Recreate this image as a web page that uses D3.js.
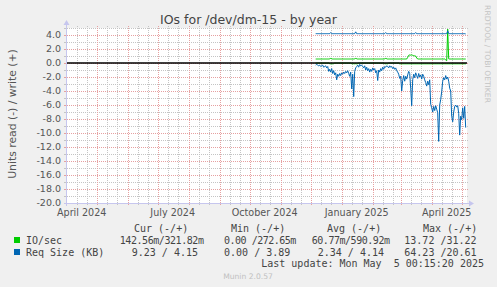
<!DOCTYPE html>
<html>
<head>
<meta charset="utf-8">
<script src="https://cdn.jsdelivr.net/npm/d3@7"></script>
<style>
  body { margin: 0; background: #f0f0f0; }
  svg { display: block; }
  text { white-space: pre; }
</style>
</head>
<body>
<svg id="chart" width="497" height="287"></svg>
<script>
// ---- data ----
const rangeStart = "2024-04-01";
const rangeEnd = "2025-05-06";
const seriesStart = "2024-12-06"; // one sample per day from here

// IO/sec write (+)
const ioWrite = [
  0.57, 0.57, 0.57, 0.57, 0.57, 0.57, 0.57, 0.57, 0.57, 0.57,
  0.57, 0.57, 0.57, 0.57, 0.57, 0.72, 0.57, 0.57, 0.57, 0.57,
  0.57, 0.57, 0.57, 0.57, 0.57, 0.57, 0.57, 0.57, 0.57, 0.57,
  0.57, 0.57, 0.57, 0.57, 0.57, 0.57, 0.57, 0.57, 0.57, 0.57,
  0.72, 0.57, 0.57, 0.57, 0.57, 0.57, 0.57, 0.57, 0.57, 0.57,
  0.57, 0.57, 0.57, 0.57, 0.57, 0.57, 0.57, 0.57, 0.57, 0.57,
  0.57, 0.57, 0.57, 0.57, 0.57, 0.57, 0.57, 0.57, 0.57, 0.57,
  0.72, 0.57, 0.57, 0.57, 0.57, 0.57, 0.57, 0.57, 0.57, 0.57,
  0.57, 0.57, 0.57, 0.57, 0.57, 0.57, 0.57, 0.57, 0.57, 0.57,
  0.57, 0.57, 0.80, 1.10, 1.15, 1.12, 1.15, 1.10, 1.05, 1.02,
  1.00, 0.72, 0.57, 0.57, 0.57, 0.57, 0.57, 0.57, 0.57, 0.57,
  0.57, 0.57, 0.57, 0.57, 0.57, 0.57, 0.57, 0.57, 0.57, 0.57,
  0.57, 0.57, 0.57, 0.57, 0.57, 0.57, 0.57, 0.57, 0.57, 0.57,
  0.45, 0.32, 4.85, 0.60, 0.57, 0.57, 0.57, 0.57, 0.57, 0.57,
  0.57, 0.57, 0.57, 0.57, 0.57, 0.57, 0.57, 0.57, 0.57, 0.57, 0.57
];
// IO/sec read (-)
const ioRead = [
  0.02, 0.02, 0.02, 0.02, 0.02, 0.02, 0.02, 0.02, 0.02, 0.02,
  0.02, 0.02, 0.02, 0.02, 0.10, 0.12, 0.10, 0.12, 0.10, 0.02,
  0.02, 0.02, 0.02, 0.02, 0.02, 0.02, 0.02, 0.02, 0.02, 0.02,
  0.02, 0.02, 0.02, 0.02, 0.02, 0.02, 0.10, 0.12, 0.10, 0.12,
  0.10, 0.12, 0.10, 0.02, 0.02, 0.02, 0.02, 0.02, 0.02, 0.02,
  0.02, 0.02, 0.02, 0.02, 0.02, 0.02, 0.02, 0.02, 0.02, 0.02,
  0.02, 0.02, 0.02, 0.02, 0.02, 0.02, 0.02, 0.02, 0.02, 0.10,
  0.12, 0.10, 0.12, 0.02, 0.02, 0.02, 0.02, 0.02, 0.02, 0.02,
  0.02, 0.02, 0.02, 0.02, 0.12, 0.12, 0.12, 0.12, 0.12, 0.12,
  0.12, 0.12, 0.12, 0.12, 0.12, 0.12, 0.12, 0.12, 0.12, 0.12,
  0.12, 0.12, 0.12, 0.12, 0.12, 0.12, 0.12, 0.12, 0.12, 0.12,
  0.12, 0.12, 0.12, 0.12, 0.12, 0.12, 0.12, 0.12, 0.12, 0.12,
  0.12, 0.12, 0.12, 0.12, 0.12, 0.12, 0.12, 0.12, 0.12, 0.12,
  0.12, 0.12, 0.12, 0.12, 0.12, 0.12, 0.12, 0.12, 0.12, 0.12,
  0.12, 0.12, 0.12, 0.12, 0.12, 0.12, 0.12, 0.12, 0.12, 0.12, 0.14
];
// Req Size (KB) write (+)
const reqWrite = [
  4.19, 4.19, 4.19, 4.19, 4.19, 4.19, 4.19, 4.19, 4.19, 4.19,
  4.19, 4.19, 4.19, 4.19, 4.19, 4.35, 4.19, 4.19, 4.19, 4.19,
  4.19, 4.19, 4.19, 4.19, 4.19, 4.19, 4.19, 4.19, 4.19, 4.19,
  4.19, 4.19, 4.19, 4.19, 4.19, 4.19, 4.19, 4.19, 4.19, 4.19,
  4.45, 4.19, 4.19, 4.19, 4.19, 4.19, 4.19, 4.19, 4.19, 4.19,
  4.19, 4.19, 4.19, 4.19, 4.19, 4.19, 4.19, 4.19, 4.19, 4.19,
  4.19, 4.19, 4.19, 4.19, 4.19, 4.19, 4.19, 4.19, 4.19, 4.19,
  4.35, 4.19, 4.19, 4.19, 4.19, 4.19, 4.19, 4.19, 4.19, 4.19,
  4.19, 4.19, 4.19, 4.19, 4.19, 4.19, 4.19, 4.19, 4.19, 4.19,
  4.19, 4.19, 4.19, 4.19, 4.19, 4.19, 4.19, 4.19, 4.19, 4.19,
  4.35, 4.19, 4.19, 4.19, 4.19, 4.19, 4.19, 4.19, 4.19, 4.19,
  4.19, 4.19, 4.19, 4.19, 4.19, 4.19, 4.19, 4.19, 4.19, 4.19,
  4.19, 4.19, 4.19, 4.19, 4.19, 4.19, 4.19, 4.19, 4.19, 4.19,
  4.19, 4.19, 4.60, 4.19, 4.19, 4.19, 4.19, 4.19, 4.19, 4.19,
  4.19, 4.19, 4.19, 4.19, 4.19, 4.19, 4.19, 4.19, 4.19, 4.19, 4.15
];
// Req Size (KB) read (-)
const reqRead = [
  0.3, 0.2, 0.3, 0.4, 0.3, 0.5, 0.4, 0.3, 0.6, 0.5,
  0.4, 0.7, 0.5, 1.2, 0.9, 1.3, 0.8, 1.5, 1.1, 1.7,
  1.4, 2.4, 1.6, 1.9, 1.5, 1.8, 1.4, 1.6, 1.3, 1.5,
  1.2, 1.4, 1.1, 1.5, 1.9, 1.3, 3.7, 1.6, 4.8, 1.2,
  0.7, 0.5, 0.3, 0.6, 0.2, 0.4, 0.3, 0.5, 0.7, 0.4,
  1.0, 0.6, 1.1, 0.8, 1.3, 0.9, 1.2, 0.7, 1.0, 0.8,
  1.4, 1.1, 2.5, 1.0, 1.3, 0.8, 1.1, 0.6, 0.9, 0.5,
  0.6, 0.4, 0.5, 0.7, 0.4, 0.6, 0.5, 0.8, 0.6, 0.9,
  0.7, 1.1, 1.3, 1.6, 2.2, 1.9, 4.0, 2.5, 1.8, 2.6,
  1.9, 2.3, 1.7, 1.2, 1.5, 3.6, 6.1, 2.4, 1.6, 2.1,
  1.4, 1.8, 2.2, 1.5, 2.0, 1.7, 2.3, 1.6, 1.9, 2.4,
  2.8, 3.3, 2.6, 3.1, 2.4, 5.9, 6.4, 7.0, 6.2, 6.8,
  6.1, 6.6, 7.1, 11.2, 6.0, 5.2, 4.1, 2.6, 2.1, 2.4,
  1.8, 2.3, 2.0, 2.6, 3.6, 4.0, 7.6, 8.4, 7.0, 6.2,
  6.0, 6.3, 6.1, 7.2, 10.3, 7.6, 8.1, 6.4, 7.9, 6.2, 9.23
];

const yDomain = [-20, 5];
const yTickValues = [4, 2, 0, -2, -4, -6, -8, -10, -12, -14, -16, -18, -20];
const xLabelText = ["April 2024", "July 2024", "October 2024", "January 2025", "April 2025"];
const xLabelMonths = ["2024-04-01", "2024-07-01", "2024-10-01", "2025-01-01", "2025-04-01"];

const legendNames = ["IO/sec", "Req Size (KB)"];
const legendColors = ["#00cc00", "#0066b3"];
const legendHeaders = ["Cur (-/+)", "Min (-/+)", "Avg (-/+)", "Max (-/+)"];
const legendRead = [["142.56m", "0.00", "60.77m", "13.72"], ["9.23", "0.00", "2.34", "64.23"]];
const legendWrite = [["321.82m", "272.65m", "590.92m", "31.22"], ["4.15", "3.89", "4.14", "20.61"]];
const lastUpdate = "Last update: Mon May  5 00:15:20 2025";

// ---- layout ----
const plot = { left: 67, right: 467, top: 28, bottom: 203 };
const sans = "'DejaVu Sans', sans-serif";
const mono = "'DejaVu Sans Mono', monospace";

const svg = d3.select("#chart");

const x = d3.scaleUtc()
  .domain([new Date(rangeStart), new Date(rangeEnd)])
  .range([plot.left - 0.3, plot.right - 0.3]);
const y = d3.scaleLinear().domain(yDomain).range([plot.bottom, plot.top]);

svg.append("rect").attr("x", plot.left).attr("y", plot.top)
  .attr("width", plot.right - plot.left).attr("height", plot.bottom - plot.top)
  .attr("fill", "#fff");

// grid
const months = d3.utcMonth.range(new Date(rangeStart), new Date(rangeEnd));
const minorDays = [];
months.forEach(m => { minorDays.push(d3.utcDay.offset(m, 10), d3.utcDay.offset(m, 20)); });
const minorCol = "#c4c4c4", majorCol = "#e6a0a0";

const grid = svg.append("g").attr("shape-rendering", "crispEdges");
d3.range(yDomain[0], yDomain[1] + 0.5, 1).forEach(v => {
  const major = v % 2 === 0;
  const yy = Math.round(y(v)) + 0.5;
  grid.append("line").attr("x1", plot.left).attr("x2", plot.right + 2)
    .attr("y1", yy).attr("y2", yy)
    .attr("stroke", major ? majorCol : minorCol).attr("stroke-dasharray", "1,1");
  grid.append("line").attr("x1", plot.left - 3).attr("x2", plot.left)
    .attr("y1", yy).attr("y2", yy).attr("stroke", major ? majorCol : minorCol);
});
minorDays.filter(d => x(d) < plot.right).forEach(d => {
  const xx = Math.round(x(d)) + 0.5;
  grid.append("line").attr("x1", xx).attr("x2", xx).attr("y1", plot.top - 2).attr("y2", plot.bottom + 2)
    .attr("stroke", minorCol).attr("stroke-dasharray", "1,1");
});
months.filter(d => x(d) > plot.left + 1).forEach(d => {
  const xx = Math.round(x(d)) + 0.5;
  grid.append("line").attr("x1", xx).attr("x2", xx).attr("y1", plot.top - 2).attr("y2", plot.bottom + 3)
    .attr("stroke", majorCol).attr("stroke-dasharray", "1,1");
});

// series
const days = reqRead.map((_, i) => d3.utcDay.offset(new Date(seriesStart), i));
const line = d3.line().x((d, i) => x(days[i])).y(d => y(d));
const series = [
  { values: ioRead.map(v => -v), color: legendColors[0] },
  { values: reqRead.map(v => -v), color: legendColors[1] },
  { values: ioWrite, color: legendColors[0] },
  { values: reqWrite, color: legendColors[1] }
];
svg.append("g").selectAll("path").data(series).join("path")
  .attr("d", d => line(d.values))
  .attr("fill", "none").attr("stroke", d => d.color).attr("stroke-width", 1);

// zero rule
svg.append("line").attr("x1", plot.left).attr("x2", plot.right)
  .attr("y1", y(0)).attr("y2", y(0)).attr("stroke", "#000").attr("stroke-width", 1.3);

// axes with arrows
const axisCol = "#c6c6ee";
svg.append("line").attr("x1", plot.left - 0.5).attr("x2", plot.left - 0.5)
  .attr("y1", plot.bottom + 3).attr("y2", plot.top - 4).attr("stroke", axisCol);
svg.append("line").attr("x1", plot.left - 3).attr("x2", plot.right + 3)
  .attr("y1", plot.bottom + 0.5).attr("y2", plot.bottom + 0.5).attr("stroke", axisCol);
svg.append("path").attr("fill", axisCol)
  .attr("d", `M${plot.left - 3.5},${plot.top - 3} L${plot.left - 0.5},${plot.top - 8} L${plot.left + 2.5},${plot.top - 3} Z`);
svg.append("path").attr("fill", axisCol)
  .attr("d", `M${plot.right + 2},${plot.bottom - 2.5} L${plot.right + 7},${plot.bottom + 0.5} L${plot.right + 2},${plot.bottom + 3.5} Z`);

// y tick labels
svg.append("g").selectAll("text").data(yTickValues).join("text")
  .attr("x", plot.left - 6).attr("y", d => y(d) + 3.4)
  .attr("text-anchor", "end").attr("font-family", sans).attr("font-size", 9.5)
  .attr("fill", "#555").text(d => d.toFixed(1));

// x labels
svg.append("g").selectAll("text").data(xLabelText).join("text")
  .attr("x", (d, i) => x(d3.utcDay.offset(new Date(xLabelMonths[i]), 15)))
  .attr("y", 216).attr("text-anchor", "middle")
  .attr("font-family", sans).attr("font-size", 9.6).attr("fill", "#555").text(d => d);

// titles
svg.append("text").attr("x", 248.5).attr("y", 23.5).attr("text-anchor", "middle")
  .attr("font-family", sans).attr("font-size", 12.5).attr("fill", "#444")
  .text("IOs for /dev/dm-15 - by year");
svg.append("text").attr("transform", "translate(15.5,114) rotate(-90)")
  .attr("text-anchor", "middle").attr("font-family", sans).attr("font-size", 10.8)
  .attr("fill", "#555").text("Units read (-) / write (+)");
svg.append("text").attr("transform", "translate(485,54) rotate(90)")
  .attr("text-anchor", "middle").attr("font-family", sans).attr("font-size", 7.6)
  .attr("fill", "#c4c4c4").text("RRDTOOL / TOBI OETIKER");

// legend: one text per "read/write" cell, write part lands on column 7
const cw = 6.02;
const colX = [119.7, 212, 305.7, 398.3];
const headX = [134, 231, 327, 423];
const rowY = [244, 256];
const pad = s => {
  const num = s.replace(/[a-zA-Z]$/, "");
  return num.padStart(6) + s.slice(num.length);
};
const leg = svg.append("g").attr("font-family", mono).attr("font-size", 10).attr("fill", "#444");
legendHeaders.forEach((h, i) => {
  leg.append("text").attr("x", headX[i]).attr("y", 231.5).attr("xml:space", "preserve").text(h);
});
legendNames.forEach((name, r) => {
  leg.append("rect").attr("x", 14).attr("y", rowY[r] - 7).attr("width", 6).attr("height", 6)
    .attr("fill", legendColors[r]);
  leg.append("text").attr("x", 26).attr("y", rowY[r]).text(name);
  colX.forEach((cx, c) => {
    const rd = pad(legendRead[r][c]).padEnd(7) + "/";
    const wr = pad(legendWrite[r][c]);
    const squeezed = wr[0] !== " ";
    const full = squeezed ? rd + wr : rd + wr.slice(1);
    const lead = full.length - full.trimStart().length;
    const t = leg.append("text").attr("x", cx + lead * cw).attr("y", rowY[r])
      .attr("xml:space", "preserve").text(full.trimStart());
    if (squeezed) {
      // munin prints the write value over the slash; squeeze into the same width
      t.attr("textLength", (7 + wr.length - lead) * cw).attr("lengthAdjust", "spacing");
    }
  });
});
leg.append("text").attr("x", 484).attr("y", 267).attr("text-anchor", "end")
  .attr("xml:space", "preserve").text(lastUpdate);

svg.append("text").attr("x", 248).attr("y", 279).attr("text-anchor", "middle")
  .attr("font-family", sans).attr("font-size", 7.6).attr("fill", "#c0c0c0").text("Munin 2.0.57");
</script>
</body>
</html>
